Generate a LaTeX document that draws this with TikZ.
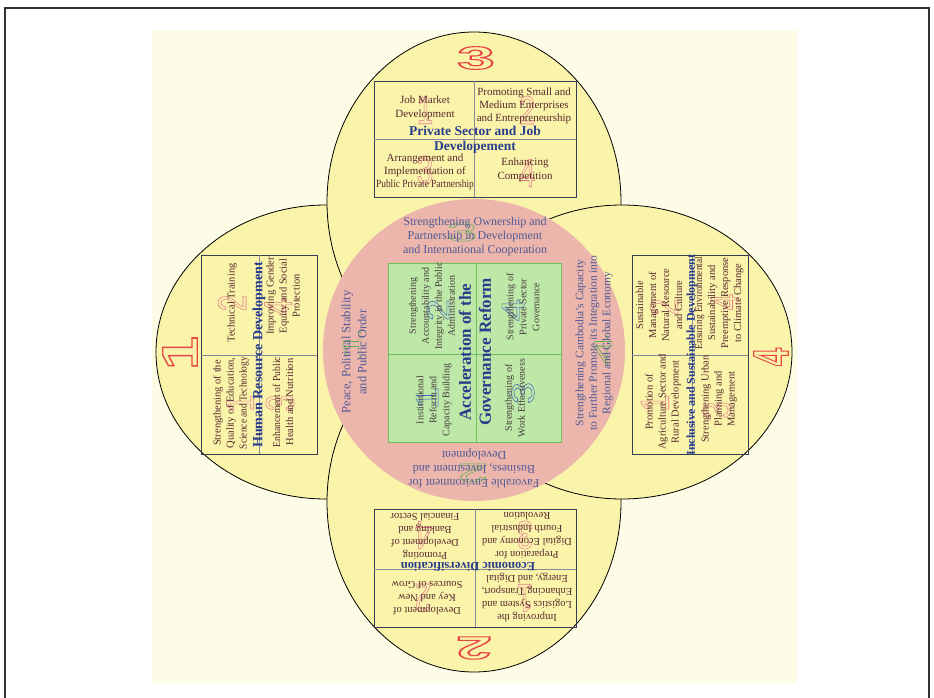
\documentclass[tikz,border=0pt]{standalone}
\usepackage{fontspec}
\setmainfont{Liberation Serif}
\newfontfamily\numfont{Liberation Sans}
\usepackage{graphicx}
\definecolor{cream}{RGB}{253,252,230}
\definecolor{petal}{RGB}{250,244,170}
\definecolor{ring}{RGB}{236,182,172}
\definecolor{gbox}{RGB}{190,232,168}
\definecolor{gline}{RGB}{110,190,90}
\definecolor{bline}{RGB}{55,60,85}
\definecolor{btext}{RGB}{85,40,45}
\definecolor{gtext}{RGB}{70,60,60}
\definecolor{ttlc}{RGB}{40,60,140}
\definecolor{rtext}{RGB}{80,90,150}
\definecolor{bignum}{RGB}{232,70,70}
\definecolor{pnum}{RGB}{230,120,140}
\definecolor{bnum}{RGB}{70,100,190}
\definecolor{gnum}{RGB}{90,180,80}
\definecolor{framec}{RGB}{50,50,50}
% outlined (stroked) text: #1 line width, #2 colour, #3 text
\newcommand\hol[3]{\textcolor{#2}{\special{pdf:literal direct #1 w 1 Tr}#3\special{pdf:literal direct 0 Tr}}}
\begin{document}
\begin{tikzpicture}[x=1pt,y=-1pt,
  txt/.style={align=center,inner sep=0pt,text=btext,font=\fontsize{10.5}{13}\selectfont},
  toptxt/.style={txt,font=\fontsize{11}{13.3}\selectfont},
  gtxt/.style={align=center,inner sep=0pt,text=gtext,font=\fontsize{10}{13}\selectfont},
  ttl/.style={align=center,inner sep=0pt,text=ttlc,font=\bfseries\fontsize{13.5}{14.5}\selectfont},
  rtxt/.style={align=center,inner sep=0pt,text=rtext,font=\fontsize{12}{14}\selectfont},
  big/.style={inner sep=0pt,font=\numfont\bfseries\fontsize{32}{32}\selectfont},
  bigside/.style={inner sep=0pt,font=\numfont\bfseries\fontsize{50}{50}\selectfont},
  small/.style={inner sep=0pt,font=\numfont\fontsize{40}{40}\selectfont},
  petalst/.style={fill=petal,draw=black,line width=0.8pt},
  boxst/.style={draw=bline,line width=0.9pt},
  divst/.style={draw=bline!60,line width=0.7pt}]
\useasboundingbox (0,0) rectangle (934,698);
\fill[white] (0,0) rectangle (934,698);
\fill[cream] (152,30) rectangle (797,683);
\draw[framec,line width=1.5pt] (5,8) rectangle (929,710);
% petals
\path[petalst] (326,352) ellipse [x radius=170pt, y radius=147pt];
\path[petalst] (474,202) ellipse [x radius=147pt, y radius=170pt];
\path[petalst] (474,502) ellipse [x radius=147pt, y radius=170pt];
\path[petalst] (622,352) ellipse [x radius=170pt, y radius=147pt];
% ring
\fill[ring] (474,350) circle [radius=151pt];
% green box
\fill[gbox] (388,263) rectangle (561,442);
% big numerals
\node[big] (n3) at (476,58) {\scalebox{2.1}[1]{\hol{1.1}{bignum}{3}}};
\node[bigside,rotate=90] (n1) at (180,353) {\scalebox{1.2}[1]{\hol{1.3}{bignum}{1}}};
\node[bigside,rotate=90] (n4) at (771,357) {\scalebox{0.65}[1]{\hol{1.3}{bignum}{4}}};
\node[big,rotate=180] (n2) at (474,648) {\scalebox{2.0}[1]{\hol{1.1}{bignum}{2}}};
% small pink digits, top box
\node[small] (t1) at (425,110) {\scalebox{0.75}[1]{\hol{0.6}{pnum}{1}}};
\node[small] (t2) at (527,110) {\scalebox{0.75}[1]{\hol{0.6}{pnum}{2}}};
\node[small] (t3) at (425,170) {\scalebox{0.75}[1]{\hol{0.6}{pnum}{3}}};
\node[small] (t4) at (527,173) {\scalebox{0.75}[1]{\hol{0.6}{pnum}{4}}};
% left box digits
\node[small,rotate=90] (l2) at (232,303) {\scalebox{0.75}[1]{\hol{0.6}{pnum}{2}}};
\node[small,rotate=90] (l1) at (240,403) {\scalebox{0.75}[1]{\hol{0.6}{pnum}{1}}};
\node[small,rotate=90] (l4) at (278,307) {\scalebox{0.75}[1]{\hol{0.6}{pnum}{4}}};
\node[small,rotate=90] (l3) at (280,403) {\scalebox{0.75}[1]{\hol{0.6}{pnum}{3}}};
% right box digits
\node[small,rotate=90] (r2) at (664,307) {\scalebox{0.75}[1]{\hol{0.6}{pnum}{2}}};
\node[small,rotate=90] (r4) at (725,302) {\scalebox{0.75}[1]{\hol{0.6}{pnum}{4}}};
\node[small,rotate=90] (r1) at (655,403) {\scalebox{0.75}[1]{\hol{0.6}{pnum}{1}}};
\node[small,rotate=90] (r3) at (717,410) {\scalebox{0.75}[1]{\hol{0.6}{pnum}{3}}};
% bottom box digits
\node[small,rotate=180] (b4) at (423,535) {\scalebox{0.75}[1]{\hol{0.6}{pnum}{4}}};
\node[small,rotate=180] (b3) at (525,535) {\scalebox{0.75}[1]{\hol{0.6}{pnum}{3}}};
\node[small,rotate=180] (b2) at (423,598) {\scalebox{0.75}[1]{\hol{0.6}{pnum}{2}}};
\node[small,rotate=180] (b1) at (525,598) {\scalebox{0.75}[1]{\hol{0.6}{pnum}{1}}};
% green box digits
\node[small,rotate=90] (g2) at (438,310) {\scalebox{1}[0.8]{\hol{0.6}{bnum}{2}}};
\node[small,rotate=90] (g4) at (513,310) {\scalebox{1}[0.8]{\hol{0.6}{bnum}{4}}};
\node[small,rotate=90] (g1) at (427,398) {\scalebox{1}[0.8]{\hol{0.6}{bnum}{1}}};
\node[small,rotate=90] (g3) at (523,393) {\scalebox{1}[0.8]{\hol{0.6}{bnum}{3}}};
% ring digits
\node[small] (p3) at (462,232) {\scalebox{1.4}[0.65]{\hol{0.6}{gnum}{3}}};
\node[small,rotate=90] (p1) at (352,345) {\scalebox{1.4}[0.65]{\hol{0.6}{gnum}{1}}};
\node[small,rotate=90] (p4) at (603,350) {\scalebox{1.4}[0.65]{\hol{0.6}{gnum}{4}}};
\node[small,rotate=180] (p2) at (473,473) {\scalebox{1.4}[0.65]{\hol{0.6}{gnum}{2}}};
% boxes
\draw[gline,line width=1pt] (388,263) rectangle (561,442) (476,263) -- (476,442) (388,354) -- (561,354);
\draw[boxst] (374,81) rectangle (576,197);
\draw[divst] (474,81) -- (474,197) (374,139) -- (576,139);
\draw[boxst] (201,255) rectangle (317,454);
\draw[divst] (259,255) -- (259,454) (201,355) -- (317,355);
\draw[boxst] (632,255) rectangle (748,454);
\draw[divst] (692,255) -- (692,454) (632,355) -- (748,355);
\draw[boxst] (374,509) rectangle (576,627);
\draw[divst] (475,509) -- (475,627) (374,569) -- (576,569);
% top box text
\node[toptxt] (a1) at (425,108) {Job Market\\Development};
\node[toptxt] (a2) at (524,106) {Promoting Small and\\Medium Enterprises\\and Entrepreneurship};
\node[ttl] (at) at (475,140) {Private Sector and Job\\Developement};
\node[toptxt] (a3) at (425,172) {Arrangement and\\Implementation of\\\scalebox{0.85}[1]{Public Private Partnership}};
\node[toptxt] (a4) at (525,170) {Enhancing\\Competition};
% left box text
\node[txt,rotate=90] (c2) at (232,303) {Technical Training};
\node[txt,rotate=90] (c1) at (231,403) {Strengthening of the\\Quality of Education,\\\scalebox{0.9}[1]{Science and Technology}};
\node[ttl,rotate=90,font=\bfseries\fontsize{14}{15}\selectfont] (ct) at (259,355) {Human Resource Development};
\node[txt,rotate=90] (c4) at (283,296) {Improving Gender\\Equity and Social\\Protection};
\node[txt,rotate=90] (c3) at (283,402) {\scalebox{0.92}[1]{Enhancement of Public}\\Health and Nutrition};
% right box text
\node[txt,rotate=90] (d2) at (659,305) {Sustainable\\Management of\\Natural Resource\\and Culture};
\node[txt,rotate=90] (d4) at (719,303) {\scalebox{0.9}[1]{Ensuring Environmental}\\Sustainability and\\Preemptive Response\\to Climate Change};
\node[ttl,rotate=90,font=\bfseries\fontsize{12}{13}\selectfont] (dt) at (692,355) {Inclusive and Sustainable Development};
\node[txt,rotate=90] (d1) at (663,402) {Promotion of\\Agriculture Sector and\\Rural Development};
\node[txt,rotate=90] (d3) at (719,399) {Strengthening Urban\\Planning and\\Management};
% bottom box text
\node[ttl,rotate=180,font=\bfseries\fontsize{12.5}{13}\selectfont] (et) at (468,567) {Economic Diversification};
\node[txt,rotate=180] (e3) at (527,536) {Preparation for\\Digital Economy and\\Fourth Industrial\\Revolution};
\node[txt,rotate=180] (e4) at (425,536) {Promoting\\Development of\\Banking and\\Financial Sector};
\node[txt,rotate=180] (e1) at (527,598) {Improving the\\Logistics System and\\Enhancing Transport,\\Energy, and Digital};
\node[txt,rotate=180] (e2) at (427,598) {Development of\\Key and New\\Sources of Grow};
% ring text
\node[rtxt] (f3) at (475,237) {Strengthening Ownership and\\Partnership in Development\\and International Cooperation};
\node[rtxt,rotate=90,font=\fontsize{12.5}{16}\selectfont] (f1) at (354,352) {Peace, Political Stability\\and Public Order};
\node[rtxt,rotate=90,font=\fontsize{11.5}{13.5}\selectfont] (f4) at (594,343) {Strengthening Cambodia's Capacity\\to Further Promote its Integration into\\Regional and Global Economy};
\node[rtxt,rotate=180] (f2) at (474,468) {Favorable Environment for\\Business, Investment and\\Development};
% green box text
\node[gtxt,rotate=90] (h2) at (432,306) {Strengthening\\Accountability and\\Integrity in the Public\\Administration};
\node[gtxt,rotate=90] (h4) at (523,307) {Strengthening of\\Private Sector\\Governance};
\node[gtxt,rotate=90] (h1) at (434,400) {Institutional\\Reform and\\Capacity Building};
\node[gtxt,rotate=90] (h3) at (515,398) {Strengthening of\\Work Effectiveness};
\node[ttl,rotate=90,font=\bfseries\fontsize{17}{20}\selectfont] (ht) at (475,352) {Acceleration of the\\Governance Reform};
\end{tikzpicture}
\end{document}
